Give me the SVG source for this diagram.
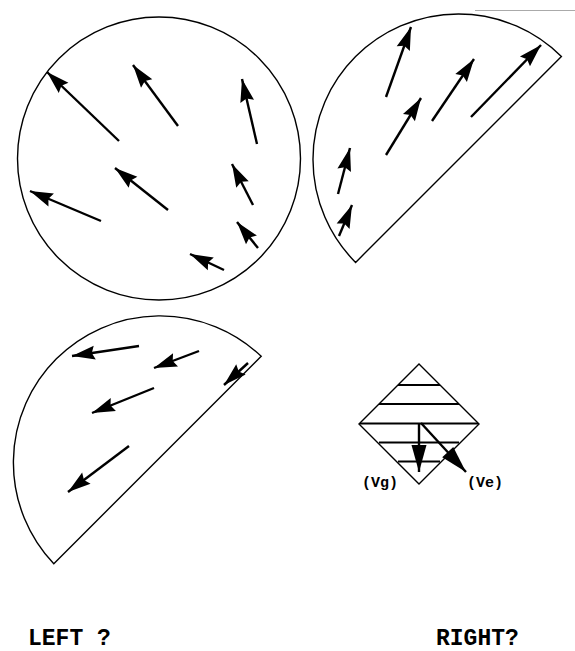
<svg xmlns="http://www.w3.org/2000/svg" width="575" height="651" viewBox="0 0 575 651">
<style>
.shape{fill:none;stroke:#000;stroke-width:1.4}
.arr{fill:none;stroke:#000;stroke-width:2.4;marker-end:url(#head)}
.arrl{fill:none;stroke:#000;stroke-width:2.4;marker-end:url(#headL)}
.hl{stroke:#000;stroke-width:2.2}
.lbl{font-family:"Liberation Mono","Courier New",monospace;font-weight:bold;fill:#000}
</style>
<defs>
<marker id="head" markerUnits="userSpaceOnUse" viewBox="-26 -9 28 18" refX="0" refY="0" markerWidth="28" markerHeight="18" orient="auto">
<path d="M0,0 L-23,-7 L-20,0 L-23,7 Z" fill="#000"/>
</marker>
<marker id="headL" markerUnits="userSpaceOnUse" viewBox="-30 -9 32 18" refX="0" refY="0" markerWidth="32" markerHeight="18" orient="auto">
<path d="M0,0 L-27,-7.5 L-27,7.5 Z" fill="#000"/>
</marker>
</defs>
<rect width="575" height="651" fill="#fff"/>
<line x1="475" y1="10.5" x2="575" y2="10.5" stroke="#aaa" stroke-width="1"/>
<g id="circle">
<circle class="shape" cx="159" cy="158.5" r="141.5"/>
</g>
<g id="upper-right-half">
<path class="shape" d="M355.6,262.4 A145.5,145.5 0 0 1 561.4,56.6 Z"/>
</g>
<g id="lower-left-half">
<path class="shape" d="M53.8,563.7 A146.7,146.7 0 0 1 261.2,356.3 Z"/>
</g>
<g id="diamond">
<path class="shape" d="M419,364 L479,424 L419,484 L359,424 Z"/>
<line class="hl" x1="398" y1="385" x2="440" y2="385"/>
<line class="hl" x1="379" y1="404" x2="459" y2="404"/>
<line class="hl" x1="360" y1="423.5" x2="478" y2="423.5"/>
<line class="hl" x1="379" y1="442.5" x2="459" y2="442.5"/>
<line class="hl" x1="398" y1="461.5" x2="440" y2="461.5"/>
</g>
<g id="connectors">
<line class="arr" x1="119" y1="141" x2="47" y2="72"/>
<line class="arr" x1="178" y1="126" x2="133" y2="65"/>
<line class="arr" x1="257" y1="144" x2="242" y2="79"/>
<line class="arr" x1="168" y1="210" x2="115" y2="168"/>
<line class="arr" x1="101" y1="221" x2="30" y2="191"/>
<line class="arr" x1="253" y1="205" x2="232" y2="164"/>
<line class="arr" x1="258" y1="248" x2="237" y2="222"/>
<line class="arr" x1="224" y1="270" x2="190" y2="254"/>
<line class="arr" x1="386" y1="97" x2="411" y2="27"/>
<line class="arr" x1="386" y1="155" x2="421" y2="98"/>
<line class="arr" x1="432" y1="121" x2="474" y2="59"/>
<line class="arr" x1="471" y1="117" x2="541" y2="45"/>
<line class="arr" x1="338" y1="194" x2="350" y2="148"/>
<line class="arr" x1="339" y1="236" x2="352" y2="205"/>
<line class="arr" x1="139" y1="346" x2="72" y2="356"/>
<line class="arr" x1="199" y1="351" x2="154" y2="368"/>
<line class="arr" x1="154" y1="388" x2="92" y2="413"/>
<line class="arr" x1="129" y1="446" x2="68" y2="492"/>
<line class="arr" x1="248" y1="363" x2="224" y2="385"/>
<line class="arrl" x1="419" y1="423" x2="419" y2="472"/>
<line class="arrl" x1="421" y1="423" x2="466" y2="472"/>
</g>
<g id="labels">
<text class="lbl" x="362" y="487" font-size="15">(Vg)</text>
<text class="lbl" x="467" y="487" font-size="15">(Ve)</text>
<text class="lbl" x="28" y="645" font-size="23">LEFT ?</text>
<text class="lbl" x="436" y="645" font-size="23">RIGHT?</text>
</g>
</svg>
